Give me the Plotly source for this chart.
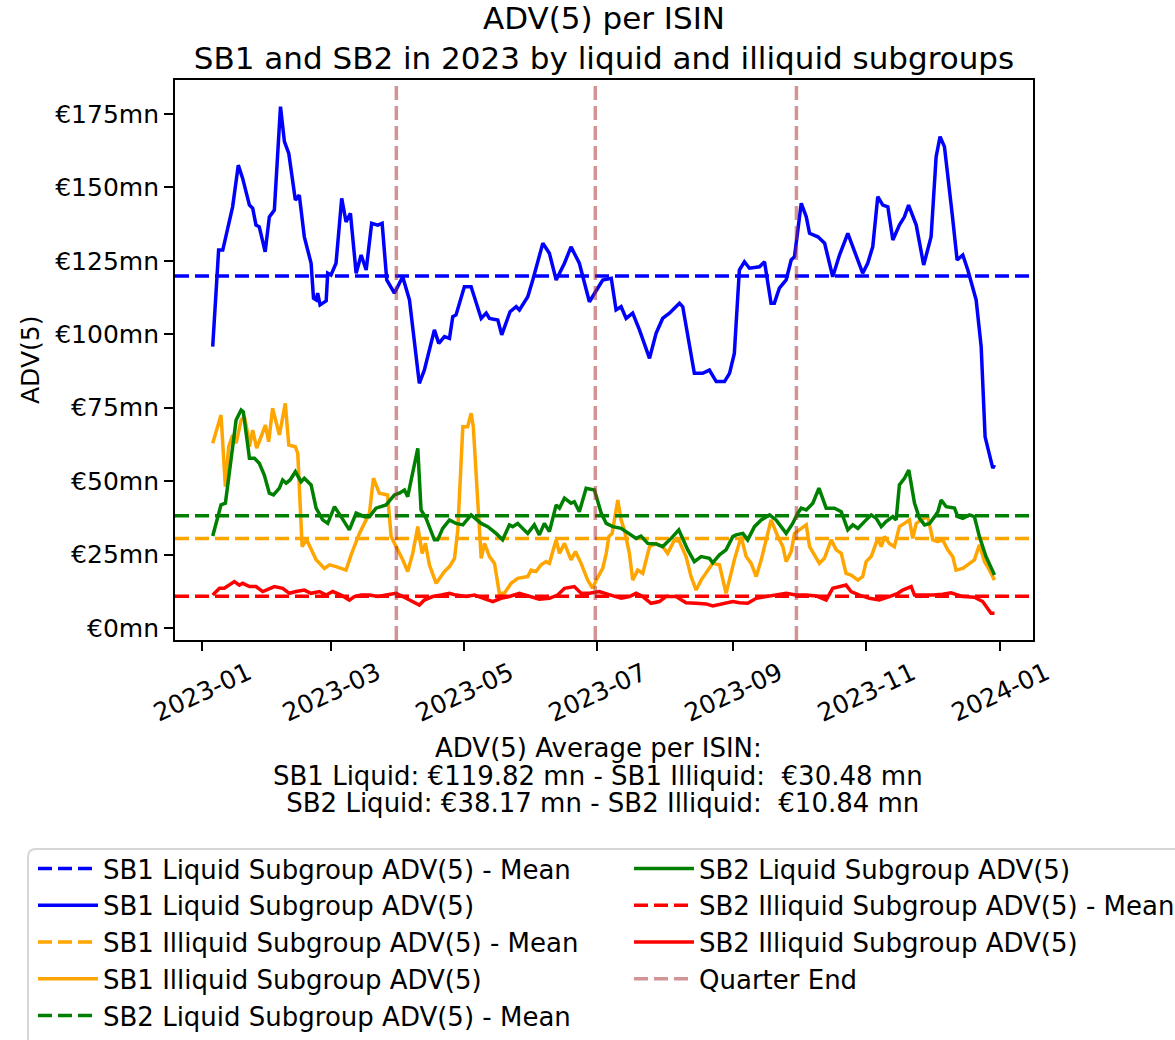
import pandas as pd
import plotly.graph_objects as go

FONT = "DejaVu Sans"
BASE = pd.Timestamp("2023-01-01")

# ---------------- data (day offsets from 2023-01-01, values in EUR mn) ----------------
sb1_liq_days = [5, 7.7, 9.6, 14.1, 16.7, 18.7, 21.8, 23.3, 24.8, 26.3, 29, 30.9, 33.2, 36, 37.8, 39.8,
                42.8, 44.6, 46.9, 50, 51.1, 52.3, 53, 54.1, 56.9, 57.6, 59.1, 61.4, 64, 66, 68, 70.6,
                72.9, 75.2, 77.7, 80.5, 82.5, 84.6, 88.1, 91.9, 95, 99.5, 101.8, 106.4, 108.4, 111,
                113.3, 114.8, 116.3, 120.1, 123.2, 127.8, 130.1, 131.6, 135.4, 137.2, 141, 143.8, 145.3,
                149.1, 151.4, 156, 159, 162.1, 165.9, 168.9, 172.7, 177.3, 183.4, 187.3, 189.5, 191.8,
                194.1, 197.1, 200.2, 204.8, 207.8, 210.8, 213.9, 218.5, 220, 225.3, 229.1, 232.2, 235.3,
                239.1, 241.4, 243.6, 245.9, 248.2, 250.5, 255.1, 257.4, 260.4, 261.9, 264.2, 267.3,
                269.6, 271.1, 274.2, 276.5, 278, 281.8, 284.9, 288.6, 291.7, 295.5, 298.5, 302.3, 304.6,
                306.9, 309.2, 311.5, 313.8, 316.1, 319.1, 321.4, 323.3, 326.8, 330.2, 333.6, 335.9,
                337.7, 339.7, 341.2, 343.2, 345.5, 348.1, 350.4, 354.2, 356.5, 357.6, 358.3, 361.8, 362.6]
sb1_liq_vals = [95.8, 128.7, 128.7, 143.4, 157.6, 153.1, 144, 142.9, 137.2, 136.6, 128.1, 140, 142.3,
                177.5, 165.6, 161.6, 145.7, 147.4, 133.2, 124.2, 112.3, 111.7, 114, 110, 111.4, 120.8,
                120.2, 124.2, 146.3, 138.3, 141.2, 120.8, 127, 121.9, 137.8, 137.2, 137.8, 118.5, 114,
                119.6, 111.7, 83.3, 87.8, 101.5, 96.9, 99.2, 98.6, 106, 106.6, 116.2, 116.2, 105.4, 107.2,
                105.4, 104.9, 99.8, 107.7, 109.4, 108.3, 112.8, 118.5, 131, 127.6, 118.5, 124.2, 129.8,
                124.2, 111.1, 118.5, 119.1, 108.3, 109.4, 105.4, 107.2, 101.5, 91.8, 100.3, 105.4, 107.2,
                110.6, 109.4, 86.7, 86.7, 87.8, 83.9, 83.9, 86.7, 93.5, 121.9, 124.7, 122.5, 123, 124.7,
                110.6, 110.6, 115.7, 118.5, 125.3, 126.4, 144.6, 140, 134.4, 133.2, 131, 119.6, 127,
                134.4, 128.7, 120.8, 124.2, 129.8, 146.9, 144, 143.4, 132.1, 137.2, 140, 144, 137.2,
                123.6, 133.2, 160.5, 167.3, 163.9, 154.8, 141.2, 125.3, 127, 121.9, 111.7, 95.8, 80,
                65.1, 54.4, 55.5]

sb1_illiq_days = [5, 8.8, 10.8, 12.3, 14.1, 15.7, 18, 19.5, 21, 21.8, 23.3, 25.1, 27.1, 29.1, 30.6, 32.4,
                  35.5, 38.2, 39.8, 42.8, 43.9, 45.9, 48, 52.3, 56.1, 58.4, 61.4, 66, 68.3, 72.1, 76.7,
                  78.5, 81.2, 85, 86.6, 88.9, 91.9, 94.2, 96.5, 98.8, 100.8, 102.3, 104.1, 107.2, 109.5,
                  111, 113.3, 115.6, 117.1, 119.4, 121.6, 123.2, 124.2, 126.7, 127.8, 129.3, 131.6, 133.9,
                  136.1, 138.4, 141.5, 144.5, 149.1, 150.6, 152.9, 155.2, 157.5, 159, 162.1, 163.6, 165.9,
                  168.9, 170.9, 173.5, 176.5, 178.8, 180.4, 183.4, 185, 186.2, 187.7, 190.3, 191.8, 193.3,
                  195.6, 197.1, 199.4, 201.7, 204.8, 207.8, 210.8, 213.1, 216.2, 218.5, 221.5, 223.8,
                  226.1, 228.4, 230.7, 233.7, 236.8, 238.3, 239.8, 242.1, 243.6, 246.7, 249, 251.3, 253.6,
                  255.9, 258.1, 260.4, 263.5, 265.8, 267.3, 269.6, 271.1, 273.4, 276.5, 278, 282.5, 284.8,
                  287.9, 290.2, 292.5, 294.7, 297, 300.1, 302.3, 303.9, 306.2, 309.2, 310.8, 312.3, 314.5,
                  316.8, 319.1, 321.4, 323.7, 325.2, 326.8, 329, 332.1, 334.4, 336.6, 338.9, 341.2, 343.5,
                  345, 348.1, 351.1, 353.4, 355.7, 358, 360.3, 362.6]
sb1_illiq_vals = [62.9, 72.5, 48.1, 61.7, 65.7, 62.9, 70.8, 71.9, 66.3, 61.7, 67.4, 61.2, 65.1, 69.1, 63.4,
                  74.8, 65.7, 76.5, 62.3, 61.7, 59.5, 27.7, 30, 23.2, 20.3, 21.5, 20.9, 19.7, 24.9, 32.2,
                  39.1, 51, 45.9, 45.3, 31.1, 27.7, 23.2, 19.2, 25.4, 34.5, 25.4, 28.8, 21.5, 15.2, 17.5,
                  19.2, 20.9, 23.7, 33.4, 68.5, 68.5, 73.1, 68.5, 36.8, 23.7, 28.8, 24.3, 22, 11.8, 11.8,
                  15.2, 16.9, 17.5, 19.7, 19.2, 21.5, 22.6, 22, 30, 25.4, 28.8, 23.2, 26, 22, 16.3, 13.5,
                  16.3, 20.3, 25.4, 31.1, 32.2, 43.6, 36.8, 33.4, 25.4, 16.3, 19.7, 18.6, 27.7, 28.8, 27.7,
                  25.4, 30, 29.4, 24.3, 17.5, 12.9, 16.3, 18.6, 22, 21.5, 16.3, 11.8, 18.6, 23.2, 31.1,
                  24.3, 22, 17.5, 23.2, 30, 36.8, 31.1, 27.7, 22.6, 26, 32.2, 33.4, 35.1, 27.7, 22, 23.7,
                  30, 26.6, 25.4, 18.6, 18, 16.3, 17.5, 22.6, 24.3, 30.5, 27.7, 31.1, 28.8, 27.7, 34.5,
                  35.6, 36.8, 30.5, 35.6, 36.8, 37.9, 30, 29.4, 30, 26.6, 24.3, 19.7, 20.3, 22, 23.2, 28.3,
                  22.6, 19.7, 16.3]

sb2_liq_days = [5, 8.8, 10.8, 12.6, 15.7, 18, 19, 21.8, 24.1, 26.3, 28.6, 30.9, 32.8, 35.5, 37, 38.6,
                40.4, 42.8, 45.4, 46.9, 50, 52.3, 55.3, 57.6, 60.7, 63.7, 67.5, 70.6, 74.4, 76.7, 79.7,
                84.3, 88.1, 90.4, 92.7, 94.2, 95.7, 98.8, 100.3, 102.6, 106.4, 107.9, 110.2, 113.3, 116.3,
                119.4, 123.2, 126.2, 127.8, 130.8, 134.6, 137.6, 140.7, 142.2, 144.5, 149.1, 152.1, 154.4,
                156.7, 159, 162.1, 163.6, 165.9, 168.9, 170.4, 172.7, 175.8, 179.6, 182.7, 185, 188,
                191.8, 195.6, 198.7, 200.9, 204, 207.8, 210.8, 214.7, 218.2, 222.3, 225.3, 228.4, 232.2,
                233.7, 236.8, 239.8, 242.9, 244.4, 247.5, 249.7, 252.8, 255.9, 259.7, 262.7, 267.3, 270.3,
                272.6, 274.2, 276.5, 279.5, 282.3, 285.6, 289.4, 292.5, 295.5, 297.8, 300.1, 303.9, 306.2,
                308.5, 310.8, 313, 316.1, 317.6, 319.1, 321.4, 323.4, 326, 328.3, 330.6, 332.9, 335.2,
                336.7, 338.2, 340.5, 344.3, 345.8, 348.1, 351.1, 353.4, 355.7, 358.7, 362.6]
sb2_liq_vals = [31.3, 41.9, 42.5, 52.7, 70.8, 74.2, 73.6, 57.8, 57.8, 56.1, 52.1, 45.9, 45.3, 47.6, 50.4,
                49.3, 50.4, 53.2, 49.8, 51, 48.7, 40.8, 36.8, 35.6, 41.3, 37.9, 33.4, 39.1, 37.9, 37.9,
                40.8, 41.9, 45.3, 45.9, 47, 44.7, 49.8, 61.2, 40.2, 37.3, 30, 30, 33.9, 36.8, 35.6, 35.1,
                38.5, 36.8, 35.6, 34.5, 32.2, 30, 35.1, 34.5, 35.6, 32.2, 35.1, 31.7, 35.6, 32.8, 41.9,
                40.8, 44.2, 42.5, 43, 39.6, 47.6, 47, 39.1, 35.6, 34.5, 33.9, 32.2, 30.5, 31.3, 28.8,
                28.6, 27.7, 30.5, 33.4, 26.6, 22.6, 24.3, 23.7, 22.2, 24.9, 26.6, 31.1, 31.7, 32.2, 30,
                34.5, 36.8, 38.5, 36.8, 32.2, 35.6, 39.1, 40.8, 40.2, 42.5, 47.6, 40.8, 40.8, 39.6, 33.4,
                35.1, 33.9, 36.8, 38.5, 37.3, 34.5, 36.2, 37.9, 36.8, 48.7, 51, 53.8, 42.5, 37.3, 35.1,
                35.6, 37.9, 39.6, 43.6, 41.3, 40.8, 37.9, 37.3, 38.5, 37.9, 31.1, 24.3, 18]

sb2_illiq_days = [5, 8.1, 10.3, 14.9, 17.2, 18.7, 21.8, 24.8, 27.9, 30.9, 33.2, 37, 40.1, 43.1, 46.9, 50,
                  53.8, 56.9, 59.9, 63.7, 67.5, 69.8, 72.9, 76.7, 80.5, 84.3, 88.9, 93.5, 97.3, 99.5,
                  101.8, 105.6, 109.5, 113.3, 116.3, 120.9, 124.7, 128.5, 133.1, 136.9, 140.7, 145.3,
                  149.9, 154.4, 159, 162.8, 165.9, 170.4, 173.5, 177.3, 181.8, 186.4, 191.8, 195.6, 198.7,
                  201.7, 205.5, 209.3, 212.3, 216.9, 221.5, 226.1, 230.7, 233.7, 238.3, 242.9, 245.9,
                  249.7, 253.6, 258.1, 262.7, 267.3, 271.8, 276.5, 281, 285.6, 288.6, 291.7, 294.7, 297,
                  300.8, 305.4, 309.9, 314.5, 318.4, 320.6, 324.5, 326, 329.8, 334.4, 338.9, 342.7, 348.1,
                  353.4, 357.2, 361, 362.6]
sb2_illiq_vals = [11.2, 13.5, 13.5, 15.8, 14.6, 15.2, 14.1, 14.1, 12.4, 13.2, 14.1, 13.5, 11.8, 12.4,
                  12.9, 11.8, 12.4, 11.2, 12.4, 11.2, 9.5, 10.7, 11.2, 11.2, 10.7, 11.2, 11.8, 10.1, 8.6,
                  7.8, 9.5, 10.7, 11.2, 11.8, 11.2, 10.7, 11.2, 10.1, 9, 10.1, 10.7, 11.8, 10.7, 9.8, 10.1,
                  11.2, 13.5, 14.1, 11.8, 11.8, 12.4, 11.2, 10.1, 10.7, 11.8, 10.7, 8.4, 9, 10.7, 10.7,
                  8.6, 8.4, 8.2, 7.5, 8.4, 9, 8.6, 8.4, 10.1, 10.7, 11.2, 11.8, 11.2, 11.2, 10.9, 9.5,
                  13.5, 14.1, 14.6, 12.4, 11.2, 10.1, 9.5, 10.7, 11.8, 12.9, 14.1, 11.2, 11.2, 11.2, 11.5,
                  12, 10.7, 10.5, 9, 5, 5]

sb1_liq_mean = 119.82
sb1_illiq_mean = 30.48
sb2_liq_mean = 38.17
sb2_illiq_mean = 10.84

quarter_ends = ["2023-03-31", "2023-06-30", "2023-09-30"]

x_tick_dates = ["2023-01-01", "2023-03-01", "2023-05-01", "2023-07-01",
                "2023-09-01", "2023-11-01", "2024-01-01"]
x_tick_labels = ["2023-01", "2023-03", "2023-05", "2023-07", "2023-09", "2023-11", "2024-01"]
y_ticks = [0, 25, 50, 75, 100, 125, 150, 175]
y_tick_labels = ["€0mn", "€25mn", "€50mn", "€75mn", "€100mn", "€125mn", "€150mn", "€175mn"]

summary_lines = [
    "ADV(5) Average per ISIN:",
    "SB1 Liquid: €119.82 mn - SB1 Illiquid:\u00a0 €30.48 mn",
    "\u00a0SB2 Liquid: €38.17 mn - SB2 Illiquid:\u00a0 €10.84 mn",
]

X_RANGE = ["2022-12-19 18:00", "2024-01-16 05:00"]
Y_RANGE = [-4.1, 186.6]

# ---------------- geometry helpers (pixel -> paper) ----------------
W, H = 1175, 1040
ML, MR, MT, MB = 175, 142, 80, 400
PW, PH = W - ML - MR, H - MT - MB


def px_x(px):
    return (px - ML) / PW


def px_y(py):
    return (H - MB - py) / PH


def to_dates(days):
    return [BASE + pd.Timedelta(days=d) for d in days]


LW = 3.5
DASH = "14px,6px"

fig = go.Figure()


def add_mean(value, color, name, legend):
    fig.add_trace(go.Scatter(x=X_RANGE, y=[value, value], mode="lines", name=name,
                             line=dict(color=color, width=LW, dash=DASH), legend=legend,
                             hoverinfo="skip"))


def add_series(days, vals, color, name, legend):
    fig.add_trace(go.Scatter(x=to_dates(days), y=vals, mode="lines", name=name,
                             line=dict(color=color, width=LW), legend=legend))


add_mean(sb1_liq_mean, "#0000ff", "SB1 Liquid Subgroup ADV(5) - Mean", "legend")
add_series(sb1_liq_days, sb1_liq_vals, "#0000ff", "SB1 Liquid Subgroup ADV(5)", "legend")
add_mean(sb1_illiq_mean, "#ffa500", "SB1 Illiquid Subgroup ADV(5) - Mean", "legend")
add_series(sb1_illiq_days, sb1_illiq_vals, "#ffa500", "SB1 Illiquid Subgroup ADV(5)", "legend")
add_mean(sb2_liq_mean, "#008000", "SB2 Liquid Subgroup ADV(5) - Mean", "legend")
add_series(sb2_liq_days, sb2_liq_vals, "#008000", "SB2 Liquid Subgroup ADV(5)", "legend2")
add_mean(sb2_illiq_mean, "#ff0000", "SB2 Illiquid Subgroup ADV(5) - Mean", "legend2")
add_series(sb2_illiq_days, sb2_illiq_vals, "#ff0000", "SB2 Illiquid Subgroup ADV(5)", "legend2")

qx, qy = [], []
for q in quarter_ends:
    qx += [q, q, None]
    qy += [Y_RANGE[0], Y_RANGE[1], None]
fig.add_trace(go.Scatter(x=qx, y=qy, mode="lines", name="Quarter End",
                         line=dict(color="rgba(165,42,42,0.5)", width=LW, dash=DASH),
                         legend="legend2", hoverinfo="skip"))

annotations = []
for d, lab in zip(x_tick_dates, x_tick_labels):
    annotations.append(dict(x=d, xref="x", y=px_y(692), yref="paper", text=lab, showarrow=False,
                            textangle=-25, xanchor="center", yanchor="middle",
                            font=dict(family=FONT, size=25, color="black")))
annotations.append(dict(x=px_x(30), y=0.5, xref="paper", yref="paper", text="ADV(5)",
                        showarrow=False, textangle=-90, xanchor="center", yanchor="middle",
                        font=dict(family=FONT, size=25, color="black")))
for i, line in enumerate(summary_lines):
    annotations.append(dict(x=px_x(598), y=px_y(748 + 27.5 * i), xref="paper", yref="paper",
                            text=line, showarrow=False, xanchor="center", yanchor="middle",
                            font=dict(family=FONT, size=26, color="black")))

# legend frame (matplotlib style rounded box)
bx0, by0, bx1, by1, r = px_x(28), px_y(849), px_x(1190), px_y(1060), 8
rx, ry = r / PW, r / PH
frame_path = (f"M {bx0},{by1} L {bx0},{by0 - ry} Q {bx0},{by0} {bx0 + rx},{by0} "
              f"L {bx1},{by0} L {bx1},{by1} Z")
shapes = [dict(type="path", path=frame_path, xref="paper", yref="paper",
               line=dict(color="#d6d6d6", width=2), fillcolor="rgba(255,255,255,0.8)", layer="below")]

legend_common = dict(xanchor="left", yanchor="top", xref="paper", yref="paper",
                     font=dict(family=FONT, size=26, color="black"), bgcolor="rgba(0,0,0,0)",
                     borderwidth=0, itemwidth=60, tracegroupgap=0, orientation="v")

fig.update_layout(
    width=W, height=H,
    margin=dict(l=ML, r=MR, t=MT, b=MB, autoexpand=False),
    paper_bgcolor="white", plot_bgcolor="white",
    font=dict(family=FONT, size=25, color="black"),
    title=dict(text="ADV(5) per ISIN<br>SB1 and SB2 in 2023 by liquid and illiquid subgroups",
               x=0.5, xref="paper", xanchor="center", y=0.972, yref="container", yanchor="top",
               font=dict(family=FONT, size=31, color="black")),
    xaxis=dict(type="date", range=X_RANGE, tickmode="array", tickvals=x_tick_dates,
               showticklabels=False, ticks="outside", ticklen=9, tickwidth=2, tickcolor="black",
               showline=True, linecolor="black", linewidth=2, mirror=True, showgrid=False,
               zeroline=False),
    yaxis=dict(range=Y_RANGE, tickmode="array", tickvals=y_ticks, ticktext=y_tick_labels,
               ticks="outside", ticklen=9, tickwidth=2, tickcolor="black",
               tickfont=dict(family=FONT, size=25, color="black"),
               showline=True, linecolor="black", linewidth=2, mirror=True, showgrid=False,
               zeroline=False),
    legend=dict(x=px_x(33), y=px_y(845), **legend_common),
    legend2=dict(x=px_x(629), y=px_y(845), **legend_common),
    annotations=annotations,
    shapes=shapes,
    showlegend=True,
)

fig.write_html("out.html", config={"displayModeBar": False},
               post_script="document.body.style.margin='0';")
